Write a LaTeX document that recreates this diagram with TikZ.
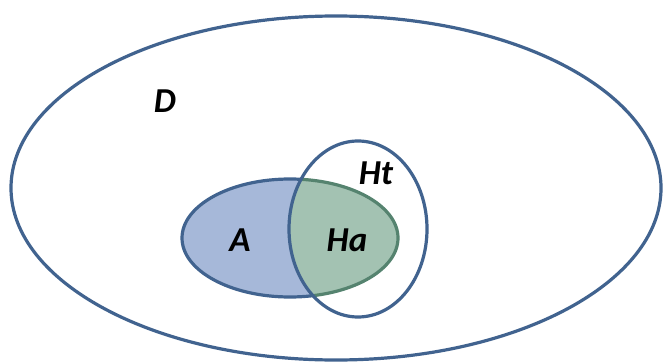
\documentclass[tikz,border=0pt]{standalone}
\usepackage{fontspec}
\setmainfont{Carlito}
\definecolor{edge}{HTML}{41638F}
\definecolor{afill}{HTML}{A6B8D9}
\definecolor{hafill}{HTML}{A3C2B2}
\definecolor{haedge}{HTML}{55836F}
\begin{document}
\begin{tikzpicture}[x=1pt,y=-1pt,
  lbl/.style={font=\fontsize{35}{35}\selectfont\bfseries\itshape, text=black, inner sep=0pt}]
\useasboundingbox (0,0) rectangle (664,364);
% outer domain
\draw[edge, line width=3.2pt] (336,188) ellipse [x radius=325, y radius=172];
% A
\fill[afill] (290,238) ellipse [x radius=108, y radius=59];
% intersection
\begin{scope}
  \clip (358,229) ellipse [x radius=69, y radius=88];
  \fill[hafill] (290,238) ellipse [x radius=108, y radius=59];
  \draw[haedge, line width=3.2pt] (290,238) ellipse [x radius=108, y radius=59];
\end{scope}
\begin{scope}[even odd rule]
  \clip (0,0) rectangle (664,364) (358,229) ellipse [x radius=69, y radius=88];
  \draw[edge, line width=3.2pt] (290,238) ellipse [x radius=108, y radius=59];
\end{scope}
% Ht
\draw[edge, line width=3.2pt] (358,229) ellipse [x radius=69, y radius=88];
% labels
\node[lbl] (D) at (165,101) {D};
\node[lbl] (Ht) at (376,173) {Ht};
\node[lbl] (A) at (240,240) {A};
\node[lbl] (Ha) at (347,240) {Ha};
\end{tikzpicture}
\end{document}
